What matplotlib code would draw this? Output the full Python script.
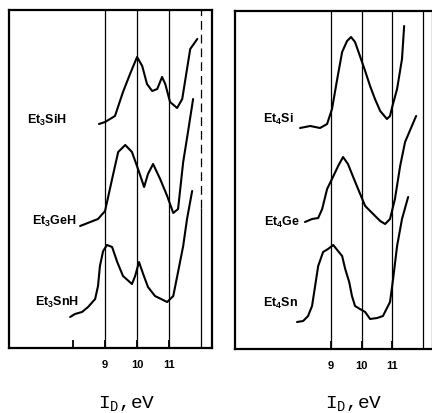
import matplotlib
matplotlib.use("Agg")
import matplotlib.pyplot as plt

plt.rcParams['font.family'] = ['Liberation Sans', 'DejaVu Sans']
plt.rcParams['mathtext.fontset'] = 'custom'
plt.rcParams['mathtext.bf'] = 'Liberation Sans:bold'
plt.rcParams['mathtext.rm'] = 'Liberation Sans:bold'
plt.rcParams['mathtext.tt'] = 'Liberation Mono'
plt.rcParams['mathtext.default'] = 'bf'

# ---- data (eV, relative signal) ----
et3sih_x = [8.81, 9.00, 9.31, 9.56, 9.78, 10.00, 10.16, 10.31, 10.47, 10.63, 10.78, 10.88, 11.03, 11.25, 11.41, 11.56, 11.66, 11.88]
et3sih_y = [224, 226, 232, 256, 274, 291, 282, 264, 257, 259, 271, 264, 246, 240, 249, 279, 299, 309]

et3geh_x = [8.22, 8.78, 9.00, 9.22, 9.41, 9.63, 9.84, 10.03, 10.22, 10.34, 10.50, 10.72, 10.94, 11.13, 11.28, 11.44, 11.59, 11.75]
et3geh_y = [122, 129, 137, 169, 196, 203, 196, 179, 161, 174, 184, 169, 152, 135, 139, 186, 216, 249]

et3snh_x = [7.91, 8.06, 8.28, 8.47, 8.69, 8.78, 8.84, 8.94, 9.06, 9.22, 9.38, 9.56, 9.84, 9.94, 10.06, 10.19, 10.34, 10.56, 10.94, 11.13, 11.28, 11.44, 11.56, 11.72]
et3snh_y = [31, 34, 36, 41, 49, 62, 82, 97, 103, 101, 86, 72, 64, 72, 86, 74, 61, 52, 46, 52, 76, 102, 129, 157]

et4si_x = [7.99, 8.32, 8.64, 8.87, 9.03, 9.20, 9.36, 9.52, 9.65, 9.78, 9.94, 10.11, 10.27, 10.43, 10.60, 10.82, 10.92, 10.99, 11.15, 11.31, 11.38]
et4si_y = [221, 223, 221, 225, 240, 270, 297, 308, 312, 307, 293, 278, 263, 250, 238, 230, 233, 242, 260, 290, 323]

et4ge_x = [8.15, 8.38, 8.58, 8.71, 8.87, 9.03, 9.23, 9.39, 9.55, 9.72, 9.88, 10.11, 10.37, 10.60, 10.76, 10.92, 11.08, 11.25, 11.41, 11.77]
et4ge_y = [127, 130, 131, 140, 160, 170, 183, 192, 185, 172, 160, 143, 135, 128, 125, 130, 150, 183, 207, 233]

et4sn_x = [7.89, 8.09, 8.25, 8.38, 8.48, 8.58, 8.74, 8.90, 9.07, 9.20, 9.36, 9.46, 9.59, 9.68, 9.78, 9.94, 10.11, 10.27, 10.50, 10.69, 10.92, 11.02, 11.15, 11.31, 11.51]
et4sn_y = [27, 28, 33, 43, 63, 83, 97, 100, 104, 99, 93, 80, 67, 53, 43, 40, 37, 30, 31, 33, 47, 70, 103, 130, 152]

left_labels = ['Et$_3$SiH', 'Et$_3$GeH', 'Et$_3$SnH']
right_labels = ['Et$_4$Si', 'Et$_4$Ge', 'Et$_4$Sn']
tick_values = [9, 10, 11]
tick_labels = ['9', '10', '11']
ref_lines = [9, 10, 11, 12]
xlabel_text = 'I$_{\\mathtt{D}}$,eV'

W, H = 432, 414
fig = plt.figure(figsize=(W / 100, H / 100), dpi=100)

def px_axes(x0, y0, x1, y1):
    return fig.add_axes([x0 / W, 1 - y1 / H, (x1 - x0) / W, (y1 - y0) / H])

axL = px_axes(9, 11, 212, 349)
axR = px_axes(235, 12, 433, 350)

curve_kw = dict(color='black', lw=1.5, solid_joinstyle='round', solid_capstyle='round')

# left panel
axL.set_xlim(6.0, 12.34)
axL.set_ylim(0, 338)
for v in [9, 10, 11]:
    axL.axvline(v, color='black', lw=0.9)
axL.vlines(12, 0, 140, color='black', lw=0.9)
axL.vlines(12, 140, 338, color='black', lw=0.9, linestyles=(0, (7, 4)))
axL.plot(et3sih_x, et3sih_y, **curve_kw)
axL.plot(et3geh_x, et3geh_y, **curve_kw)
axL.plot(et3snh_x, et3snh_y, **curve_kw)
for lab, (lx, ly) in zip(left_labels, [(6.56, 229), (6.72, 128), (6.81, 47)]):
    axL.text(lx, ly, lab, fontsize=9, fontweight='bold', ha='left', va='center')
axL.set_xticks([8] + tick_values)
axL.set_xticklabels([''] + tick_labels)

# right panel
axR.set_xlim(5.87, 12.32)
axR.set_ylim(0, 338)
for v in ref_lines:
    axR.axvline(v, color='black', lw=0.9)
axR.plot(et4si_x, et4si_y, **curve_kw)
axR.plot(et4ge_x, et4ge_y, **curve_kw)
axR.plot(et4sn_x, et4sn_y, **curve_kw)
for lab, (lx, ly) in zip(right_labels, [(6.79, 231), (6.82, 128), (6.79, 47)]):
    axR.text(lx, ly, lab, fontsize=9, fontweight='bold', ha='left', va='center')
axR.set_xticks(tick_values)
axR.set_xticklabels(tick_labels)

for ax in (axL, axR):
    ax.set_yticks([])
    ax.tick_params(axis='x', direction='in', length=6, width=1.3, pad=8,
                   labelsize=8)
    for lab in ax.get_xticklabels():
        lab.set_fontweight('bold')
    for s in ax.spines.values():
        s.set_linewidth(1.6)

fig.text(127 / W, 1 - 404 / H, xlabel_text, fontsize=14, family='Liberation Mono',
         ha='center', va='center')
fig.text(354 / W, 1 - 404 / H, xlabel_text, fontsize=14, family='Liberation Mono',
         ha='center', va='center')

fig.savefig('out.png', dpi=100)
